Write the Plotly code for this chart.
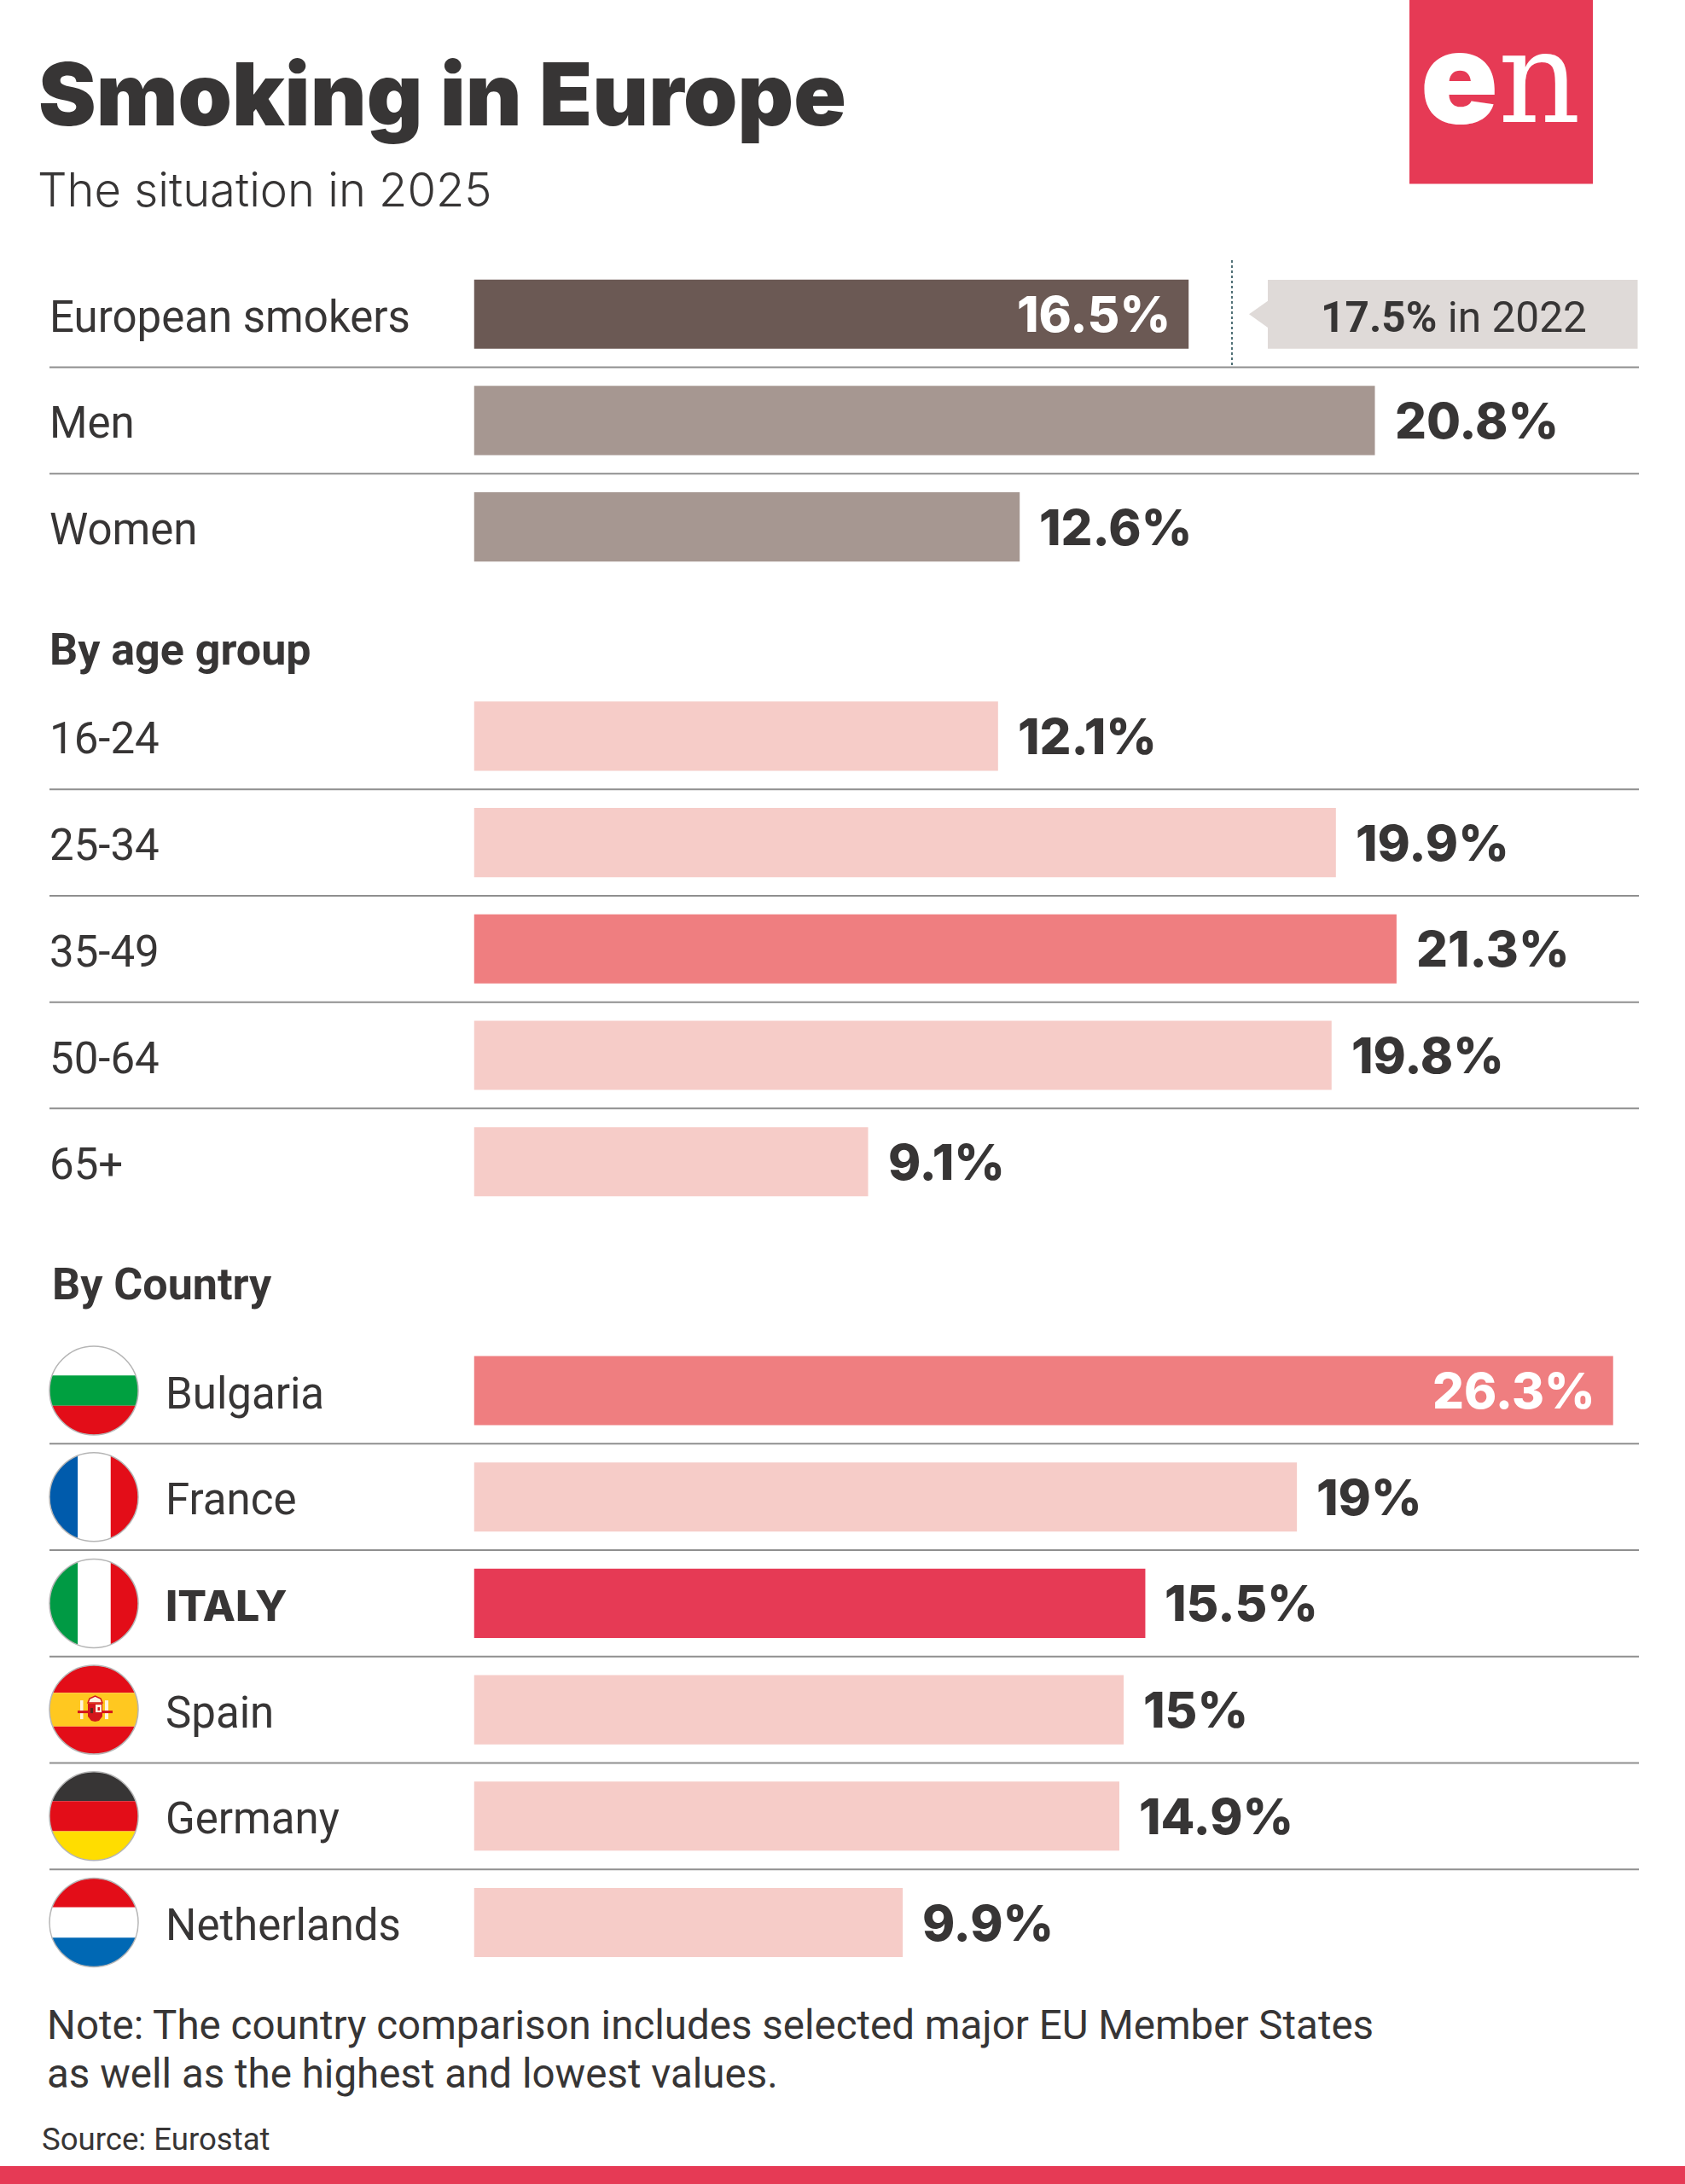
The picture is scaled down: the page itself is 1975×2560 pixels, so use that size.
"""Smoking in Europe, 2025: horizontal bars in three stacked groups."""

import numpy as np
import plotly.graph_objects as go

W, H = 1975, 2560

overall_labels = ["European smokers", "Men", "Women"]
overall_values = [16.5, 20.8, 12.6]
overall_colors = ["#6b5954", "#a69791", "#a69791"]

age_labels = ["16-24", "25-34", "35-49", "50-64", "65+"]
age_values = [12.1, 19.9, 21.3, 19.8, 9.1]
age_colors = ["#f6ccc8", "#f6ccc8", "#ef7e80", "#f6ccc8", "#f6ccc8"]

country_labels = ["Bulgaria", "France", "ITALY", "Spain", "Germany", "Netherlands"]
country_values = [26.3, 19, 15.5, 15, 14.9, 9.9]
country_colors = ["#ef7e80", "#f6ccc8", "#e63a55", "#f6ccc8", "#f6ccc8", "#f6ccc8"]

value_2022 = 17.5

# flag stripes, top to bottom or left to right
flags = {
    "Bulgaria": ("h", ["#ffffff", "#00a040", "#e30d18"], [0.33, 0.67]),
    "France": ("v", ["#005bac", "#ffffff", "#e30d18"], [0.32, 0.69]),
    "ITALY": ("v", ["#009a44", "#ffffff", "#e30d18"], [0.32, 0.69]),
    "Spain": ("h", ["#e30d18", "#ffc820", "#e30d18"], [0.31, 0.69]),
    "Germany": ("h", ["#373535", "#e30d18", "#ffdd00"], [0.33, 0.67]),
    "Netherlands": ("h", ["#e30d18", "#ffffff", "#0068b4"], [0.33, 0.67]),
}

INK = "#373535"
RED = "#e63a55"
RULE = "#8f8f8f"
BAR_X0 = 555.5
PX_PER_POINT = 50.77
ROW = 124.7
GROUP_TOPS = [368.2 - ROW / 2, 862.9 - ROW / 2, 1630 - ROW / 2]
RULE_X0, RULE_X1 = 58, 1921
LABEL_FONT = "Roboto"
VALUE_FONT = "Inter"


def px(x):
    return x / W


def py(y):
    return 1 - y / H


def text(x, y, s, size, color=INK, family=LABEL_FONT, anchor="left", weight=None):
    return dict(
        text=s, xref="paper", yref="paper", x=px(x), y=py(y), xanchor=anchor, yanchor="middle",
        showarrow=False, font=dict(family=family, size=size, color=color, weight=weight),
    )


def poly(points):
    return "M" + "L".join(f"{px(x):.5f},{py(y):.5f}" for x, y in points) + "Z"


def stripe(cx, cy, r, orient, a, b):
    """Part of a circle between fractions a and b of its diameter."""
    u = np.linspace(-r + 2 * r * a, -r + 2 * r * b, 24)
    v = np.sqrt(np.maximum(r**2 - u**2, 0))
    side = list(zip(u, v)) + list(zip(u[::-1], -v[::-1]))
    if orient == "h":
        return poly([(cx + s, cy + t) for t, s in side])
    return poly([(cx + t, cy + s) for t, s in side])


def rect(x0, y0, x1, y1, color, layer="above"):
    return dict(
        type="rect", xref="paper", yref="paper", x0=px(x0), x1=px(x1), y0=py(y0), y1=py(y1),
        fillcolor=color, line_width=0, layer=layer,
    )


groups = [
    (overall_labels, overall_values, overall_colors, "y"),
    (age_labels, age_values, age_colors, "y2"),
    (country_labels, country_values, country_colors, "y3"),
]

fig = go.Figure()
shapes = []
annotations = []
layout_axes = {}

for (labels, values, colors, axis), top in zip(groups, GROUP_TOPS):
    fig.add_bar(
        x=values, y=labels, orientation="h", yaxis=axis, xaxis="x",
        marker=dict(color=colors, line_width=0), width=0.65, showlegend=False, hoverinfo="skip",
    )
    n = len(labels)
    layout_axes["yaxis" + axis[1:]] = dict(
        domain=[py(top + n * ROW), py(top)], type="category", categoryorder="array",
        categoryarray=labels, range=[n - 0.5, -0.5], anchor="x", showgrid=False,
        zeroline=False, showline=False, showticklabels=False, ticks="", fixedrange=True,
    )
    for i in range(n - 1):
        shapes.append(dict(
            type="line", xref="paper", yref=axis, x0=px(RULE_X0), x1=px(RULE_X1), y0=i + 0.5, y1=i + 0.5,
            line=dict(color=RULE, width=2), layer="below",
        ))
    for label, value in zip(labels, values):
        inside = value in (16.5, 26.3)
        annotations.append(dict(
            text=f"{value:g}%", xref="x", yref=axis, x=value, y=label, showarrow=False,
            xanchor="right" if inside else "left", yanchor="middle", xshift=-19 if inside else 21, yshift=0,
            font=dict(family=VALUE_FONT, size=58, weight=800, color="#ffffff" if inside else INK),
        ))
        is_country = axis == "y3"
        if label == "ITALY":
            label_font = dict(family=VALUE_FONT, size=50, weight=800, color=INK)
        else:
            label_font = dict(family=LABEL_FONT, size=51, color=INK)
        annotations.append(dict(
            text=label, xref="paper", yref=axis, x=px(192 if is_country else 56), y=label, showarrow=False,
            xanchor="left", yanchor="middle", yshift=-3, font=label_font,
        ))
        if is_country:
            cy = top + ROW * (labels.index(label) + 0.5)
            orient, cols, cuts = flags[label]
            edges = [0] + cuts + [1]
            for col, a, b in zip(cols, edges[:-1], edges[1:]):
                shapes.append(dict(type="path", path=stripe(110, cy, 52, orient, a, b), xref="paper",
                                   yref="paper", fillcolor=col, line_width=0))
            shapes.append(dict(type="circle", xref="paper", yref="paper", x0=px(58), x1=px(162),
                               y0=py(cy + 52), y1=py(cy - 52), line=dict(color="#b5b5b5", width=1.5)))

# coat of arms on the Spanish flag
c = GROUP_TOPS[2] + ROW * 3.5
shapes += [
    rect(94, c - 11, 97.5, c + 11, "#fff4e0"),
    rect(123, c - 11, 127, c + 11, "#fff4e0"),
    rect(91, c + 1, 104, c + 4, "#d3161c"),
    rect(119, c + 1, 132, c + 4, "#d3161c"),
    dict(type="path", xref="paper", yref="paper", fillcolor="#d3161c", line_width=0, path=poly([
        (103, c - 7), (120, c - 7), (120, c + 8), (116, c + 13), (111.5, c + 14), (107, c + 13), (103, c + 8),
    ])),
    rect(112, c - 6, 119, c + 3, "#fff4e0"),
    rect(114.5, c - 3, 117, c + 1, "#d3161c"),
    rect(106, c - 2, 109, c + 4, "#5a2a20"),
    dict(type="path", xref="paper", yref="paper", fillcolor="#fff4e0", line=dict(color="#d3161c", width=1.5),
         path=poly([(103, c - 8), (105, c - 13), (111.5, c - 16), (118, c - 13), (120, c - 8)])),
]

# marker of the 2022 level and its callout
shapes.append(dict(type="line", xref="x", yref="paper", x0=value_2022, x1=value_2022, y0=py(305), y1=py(431),
                   line=dict(color="#4f6f75", width=2, dash="dot"), layer="below"))
shapes.append(dict(type="path", xref="paper", yref="paper", fillcolor="#dfdad8", line_width=0, path=poly([
    (1486, 328), (1919.5, 328), (1919.5, 408.7), (1486, 408.7), (1486, 384), (1464, 368.3), (1486, 352.7),
])))

# logo and bottom band
shapes += [rect(1652, 0, 1867, 215.6, RED), rect(0, 2539, W, H, RED)]

annotations += [
    text(43, 111, "Smoking in Europe", 101.6, family="Inter", weight=900),
    text(42, 222, "The situation in 2025", 54.3, family="Inter", weight=300),
    text(1546, 372, "<b>17.5%</b> in 2022", 49.6),
    text(56, 762, "By age group", 52, weight=700),
    text(59, 1505, "By Country", 52, weight=700),
    text(53, 2374, "Note: The country comparison includes selected major EU Member States", 47.5),
    text(53, 2431, "as well as the highest and lowest values.", 47.5),
    text(47, 2507, "Source: Eurostat", 36.6),
    text(1663, 90, "e", 150, color="#ffffff", family="Inter", weight=900),
    text(1754, 91, "n", 150, color="#ffffff", family="DejaVu Serif"),
]

fig.update_layout(
    width=W, height=H, margin=dict(l=0, r=0, t=0, b=0), paper_bgcolor="#ffffff", plot_bgcolor="#ffffff",
    barmode="overlay", shapes=shapes, annotations=annotations,
    xaxis=dict(domain=[px(BAR_X0), 1], range=[0, (W - BAR_X0) / PX_PER_POINT], visible=False,
               fixedrange=True, anchor="y3"),
    **layout_axes,
)

# the browser's default body margin would push the page down and right
fig.write_html("out.html", config=dict(displayModeBar=False), post_script="document.body.style.margin = '0';")
